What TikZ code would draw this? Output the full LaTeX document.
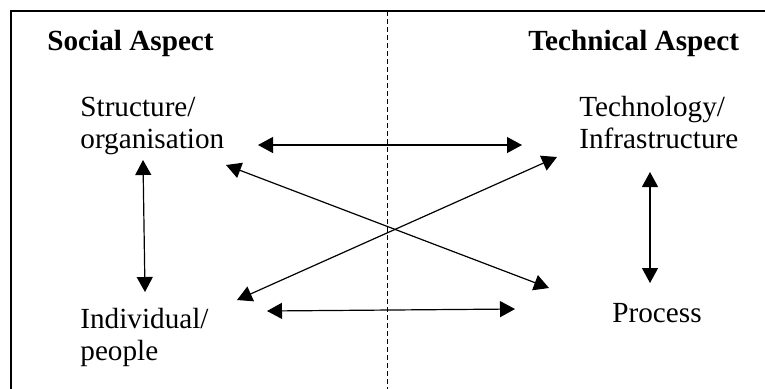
\documentclass[tikz,border=0pt]{standalone}
\usepackage{fontspec}
\setmainfont{Liberation Serif}
\usetikzlibrary{arrows.meta}
\tikzset{
  aspect/.style={font=\fontsize{14.6}{16}\selectfont\bfseries, inner sep=0pt, anchor=base west},
  item/.style={font=\fontsize{14.6}{15.9}\selectfont, inner sep=0pt, anchor=base west, align=left},
  twoway/.style={{Triangle[length=7.5pt,width=8pt]}-{Triangle[length=7.5pt,width=8pt]}, line width=0.6pt},
}
\begin{document}
\begin{tikzpicture}[x=0.5pt,y=-0.5pt]
\clip (0,0) rectangle (765,388);
% frame and divider
\draw[line width=0.8pt] (11,400) -- (11,11) -- (780,11);
\draw[dash pattern=on 2.5pt off 1.5pt, line width=0.5pt] (387,11) -- (387,400);
% headings
\node[aspect] (soc) at (47,50) {Social Aspect};
\node[aspect] (tec) at (528,50) {Technical Aspect};
% the four parts (base = last line)
\node[item] (struc) at (80,148) {Structure/\\organisation};
\node[item] (techn) at (579,148) {Technology/\\Infrastructure};
\node[item] (indiv) at (80,360) {Individual/\\people};
\node[item] (proc) at (612,322) {Process};
% arrow ends
\coordinate (struc-r) at (258,145);
\coordinate (techn-l) at (522,145);
\coordinate (indiv-r) at (267,311);
\coordinate (proc-l) at (515,309);
\coordinate (struc-b) at (143,160);
\coordinate (indiv-t) at (145,292);
\coordinate (techn-b) at (650,172);
\coordinate (proc-t) at (650,283);
\coordinate (struc-d) at (226,165);
\coordinate (proc-d) at (549,288);
\coordinate (indiv-d) at (237,300);
\coordinate (techn-d) at (557,157);
% links
\draw[twoway] (struc-r) -- (techn-l);
\draw[twoway] (indiv-r) -- (proc-l);
\draw[twoway] (struc-b) -- (indiv-t);
\draw[twoway] (techn-b) -- (proc-t);
\draw[twoway] (struc-d) -- (proc-d);
\draw[twoway] (indiv-d) -- (techn-d);
\end{tikzpicture}
\end{document}
